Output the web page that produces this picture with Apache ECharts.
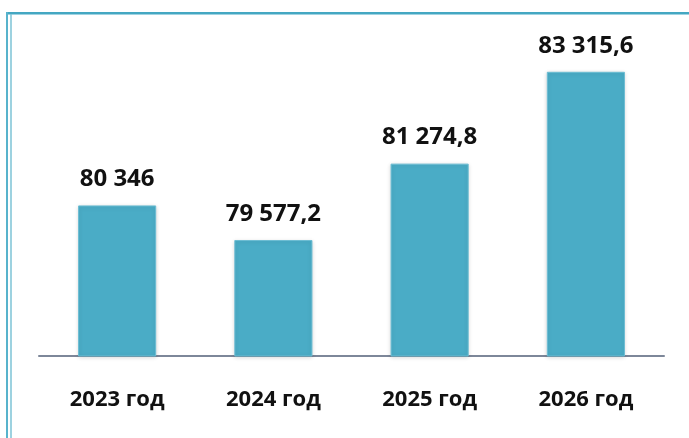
<!DOCTYPE html>
<html>
<head>
<meta charset="utf-8">
<script src="https://cdn.jsdelivr.net/npm/echarts@6/dist/echarts.min.js"></script>
<style>
  html, body { margin: 0; padding: 0; background: #fff; }
</style>
</head>
<body>
<div id="chart" style="width: 689px; height: 438px;"></div>
<script>
// years and budget values
var years = ['2023 год', '2024 год', '2025 год', '2026 год'];
var values = [80346, 79577.2, 81274.8, 83315.6];
var valueLabels = ['80 346', '79 577,2', '81 274,8', '83 315,6'];

var myChart = echarts.init(document.getElementById('chart'));

myChart.setOption({
    backgroundColor: '#ffffff',
    animation: false,
    grid: {
        left: 39,
        right: 25,
        top: 41,
        bottom: 82
    },
    // frame lines along the top and left edge
    graphic: [
        { type: 'line', shape: { x1: 7, y1: 13, x2: 689, y2: 13 }, style: { stroke: '#44a7c2', lineWidth: 2 } },
        { type: 'line', shape: { x1: 7, y1: 14.5, x2: 689, y2: 14.5 }, style: { stroke: '#9fd3e2', lineWidth: 1 } },
        { type: 'line', shape: { x1: 7, y1: 12, x2: 7, y2: 438 }, style: { stroke: '#58b3cc', lineWidth: 2 } },
        { type: 'line', shape: { x1: 11, y1: 14, x2: 11, y2: 438 }, style: { stroke: '#7cc3d6', lineWidth: 1.5 } }
    ],
    xAxis: {
        type: 'category',
        data: years,
        axisLine: { lineStyle: { color: '#7d8799', width: 2 } },
        axisTick: { show: false },
        axisLabel: {
            margin: 33,
            color: '#111',
            fontFamily: 'Open Sans',
            fontWeight: 'bold',
            fontSize: 22
        }
    },
    yAxis: {
        type: 'value',
        min: 77000,
        max: 84000,
        show: false,
        splitLine: { show: false }
    },
    series: [
        {
            type: 'bar',
            data: values,
            barWidth: '50%',
            itemStyle: {
                color: '#4aacc6',
                borderColor: '#6cbdd3',
                borderWidth: 1,
                shadowBlur: 4,
                shadowColor: 'rgba(0, 0, 0, 0.15)',
                shadowOffsetY: 1
            },
            label: {
                show: true,
                position: 'top',
                distance: 14,
                color: '#111',
                fontFamily: 'Open Sans',
                fontWeight: 'bold',
                fontSize: 24,
                formatter: function (p) {
                    return valueLabels[p.dataIndex];
                }
            }
        }
    ]
});
</script>
</body>
</html>
